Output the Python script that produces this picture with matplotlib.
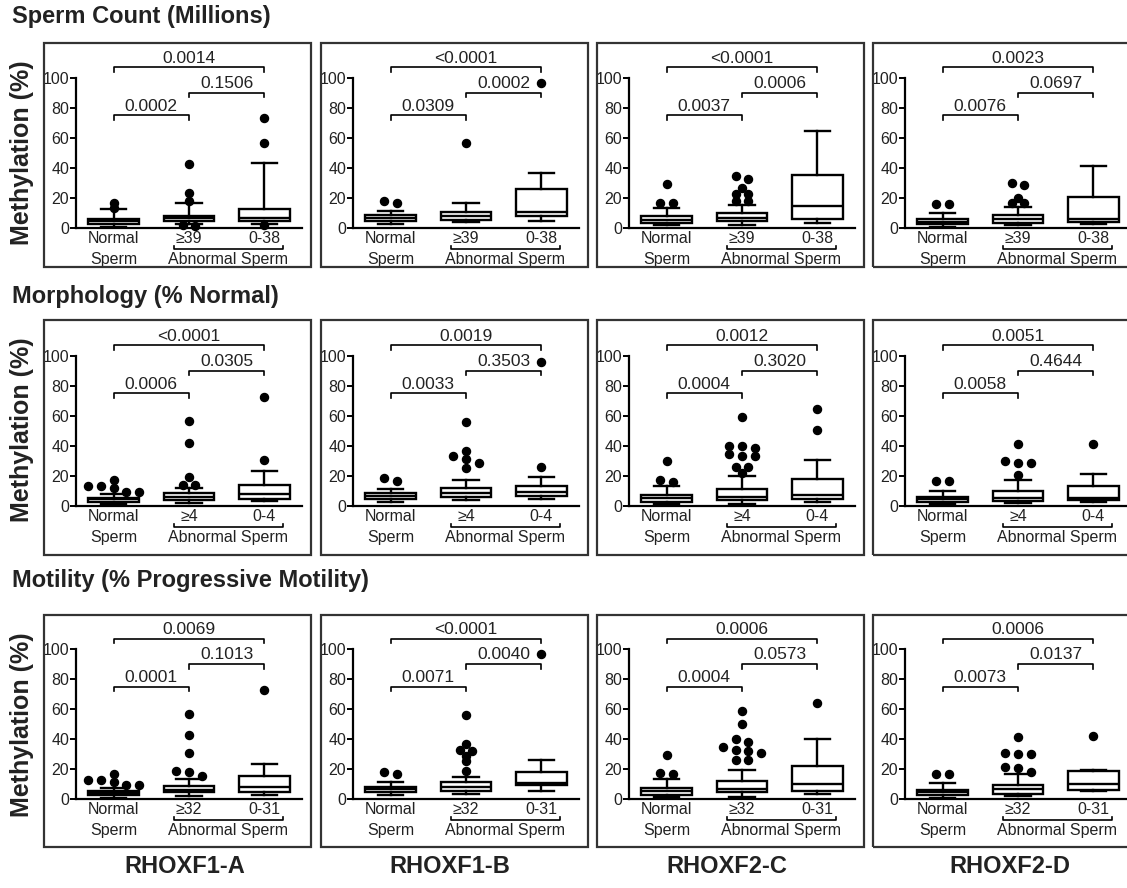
import matplotlib
matplotlib.use("Agg")
import matplotlib.pyplot as plt
from matplotlib.patches import Rectangle

plt.rcParams['font.family'] = ['Liberation Sans', 'DejaVu Sans']

W, H = 1127, 888

row_titles = ["Sperm Count (Millions)", "Morphology (% Normal)", "Motility (% Progressive Motility)"]
col_titles = ["RHOXF1-A", "RHOXF1-B", "RHOXF2-C", "RHOXF2-D"]
group_labels = [["Normal", "\u226539", "0-38"],
                ["Normal", "\u22654", "0-4"],
                ["Normal", "\u226532", "0-31"]]

# p-values per panel: (Normal vs group2, group2 vs group3, Normal vs group3)
pvals_count = [["0.0002", "0.1506", "0.0014"], ["0.0309", "0.0002", "<0.0001"],
               ["0.0037", "0.0006", "<0.0001"], ["0.0076", "0.0697", "0.0023"]]
pvals_morph = [["0.0006", "0.0305", "<0.0001"], ["0.0033", "0.3503", "0.0019"],
               ["0.0004", "0.3020", "0.0012"], ["0.0058", "0.4644", "0.0051"]]
pvals_motil = [["0.0001", "0.1013", "0.0069"], ["0.0071", "0.0040", "<0.0001"],
               ["0.0004", "0.0573", "0.0006"], ["0.0073", "0.0137", "0.0006"]]

# box stats: (whisker low, q1, median, q3, whisker high, outliers)
count_A = [(0.8, 3.0, 4.5, 6.0, 13.0, [17.0, 13.2]),
           (3.0, 4.5, 6.5, 8.2, 16.5, [42.6, 23.0, 17.8, 1.8, 1.6]),
           (3.0, 4.5, 7.0, 12.7, 43.6, [73.0, 56.7, 1.8])]
count_B = [(2.5, 4.7, 6.7, 8.5, 11.6, [17.0, 18.3]),
           (3.8, 5.6, 8.3, 10.5, 16.7, [56.5]),
           (5.0, 8.0, 11.0, 25.7, 36.4, [96.6])]
count_C = [(1.8, 3.3, 5.6, 7.8, 13.6, [29.6, 16.7, 16.9]),
           (2.0, 4.5, 6.5, 9.8, 15.6, [32.7, 34.4, 26.4, 22.4, 22.4, 17.8, 17.8]),
           (3.6, 6.2, 15.0, 35.0, 64.4, [])]
count_D = [(1.0, 2.7, 4.2, 6.0, 10.0, [16.3, 16.3]),
           (2.0, 3.3, 6.0, 9.0, 14.2, [30.3, 28.5, 20.0, 17.0, 17.0]),
           (2.7, 4.0, 6.0, 20.7, 41.5, [])]

morph_A = [(1.0, 2.9, 4.5, 5.5, 7.7, [17.2, 13.5, 12.1, 9.5, 9.5, 13.3]),
           (1.8, 4.0, 6.0, 8.4, 12.1, [56.5, 42.2, 19.0, 14.3, 14.3]),
           (3.0, 4.6, 7.7, 14.3, 23.4, [72.8, 30.9])]
morph_B = [(2.6, 4.9, 6.8, 8.6, 11.5, [16.8, 18.8]),
           (4.0, 6.2, 8.8, 11.7, 17.0, [56.3, 36.6, 33.1, 31.6, 28.7, 25.6]),
           (4.6, 6.8, 9.3, 13.5, 19.4, [26.0, 96.0])]
morph_C = [(1.6, 2.9, 5.5, 7.6, 13.5, [29.7, 17.3, 16.2]),
           (1.6, 4.3, 6.3, 11.0, 19.8, [59.0, 40.0, 40.0, 38.7, 34.4, 33.3, 33.0, 26.3, 26.0, 21.8]),
           (2.5, 4.5, 7.6, 18.0, 30.6, [64.5, 50.6])]
morph_D = [(1.0, 2.6, 4.4, 6.2, 10.3, [16.9, 16.9]),
           (2.0, 3.3, 5.5, 9.7, 17.6, [41.1, 30.3, 28.8, 28.8, 20.4]),
           (2.6, 3.7, 5.5, 13.2, 21.3, [41.5])]

motil_A = [(1.0, 2.5, 4.0, 5.4, 7.4, [17.0, 12.7, 11.2, 9.6, 9.6, 12.9]),
           (2.0, 4.5, 6.3, 8.5, 13.6, [56.5, 42.6, 30.6, 18.8, 17.9, 15.2]),
           (2.5, 4.7, 8.3, 15.2, 23.2, [72.8])]
motil_B = [(2.5, 4.7, 6.5, 8.3, 11.4, [16.6, 18.2]),
           (3.6, 5.4, 7.8, 11.2, 15.0, [56.3, 36.5, 33.0, 32.0, 28.7, 25.3, 18.8]),
           (5.4, 9.4, 11.0, 17.7, 25.8, [96.6])]
motil_C = [(1.5, 2.9, 5.4, 7.6, 13.5, [29.6, 17.3, 16.6]),
           (1.5, 4.5, 7.0, 11.9, 19.5, [59.0, 50.2, 40.0, 38.3, 34.8, 32.7, 31.8, 30.7, 25.8, 25.8]),
           (3.6, 5.6, 10.0, 22.2, 40.0, [64.3])]
motil_D = [(1.0, 2.7, 4.5, 6.0, 10.5, [16.5, 16.5]),
           (2.0, 3.3, 6.7, 9.4, 17.0, [41.3, 30.6, 29.7, 29.7, 21.2, 20.5, 18.3]),
           (5.1, 6.2, 10.0, 18.5, 19.6, [41.7])]

rows_data = [[count_A, count_B, count_C, count_D],
             [morph_A, morph_B, morph_C, morph_D],
             [motil_A, motil_B, motil_C, motil_D]]
rows_pvals = [pvals_count, pvals_morph, pvals_motil]

# ---------------- layout (pixels) ----------------
frame_left = [44, 321, 597, 873]
frame_w = 267
frame_rows = [(43, 267), (320, 555), (615, 847)]
zero_rows = [228, 506, 799]
px_per_unit = 1.5
ytop = 120

fig = plt.figure(figsize=(W / 100, H / 100), dpi=100)
fig.patch.set_facecolor('white')

def fx(x):
    return x / W

def fy(y):
    return 1 - y / H

def dodge(values, thr=3.0, step=0.17):
    vals = sorted(values, reverse=True)
    out = []
    i = 0
    while i < len(vals):
        j = i
        while j + 1 < len(vals) and vals[j] - vals[j + 1] < thr:
            j += 1
        n = j - i + 1
        for k in range(n):
            out.append(((k - (n - 1) / 2) * step, vals[i + k]))
        i = j + 1
    return out

tc = '#222222'
for r in range(3):
    top, bot = frame_rows[r]
    y0 = zero_rows[r]
    for c in range(4):
        fl = frame_left[c]
        fig.add_artist(Rectangle((fx(fl), fy(bot)), frame_w / W, (bot - top) / H,
                                 transform=fig.transFigure, fill=False,
                                 lw=1.6, ec='#333333'))
        ax = fig.add_axes([fx(fl + 32), fy(y0), 226 / W, ytop * px_per_unit / H])
        ax.set_facecolor('none')
        data = rows_data[r][c]
        stats = []
        for (lo, q1, med, q3, hi, fli) in data:
            stats.append(dict(whislo=lo, q1=q1, med=med, q3=q3, whishi=hi, fliers=[]))
        arts = ax.bxp(stats, positions=[1, 2, 3], widths=0.67, showfliers=False,
                      patch_artist=True,
                      boxprops=dict(facecolor='white', edgecolor='black', linewidth=1.7),
                      medianprops=dict(color='black', linewidth=1.7),
                      whiskerprops=dict(color='black', linewidth=1.7),
                      capprops=dict(color='black', linewidth=1.7))
        for key in arts:
            for a in arts[key]:
                a.set_clip_on(False)
        for pos, (lo, q1, med, q3, hi, fli) in zip([1, 2, 3], data):
            pts = dodge(fli)
            if pts:
                xs = [pos + dx for dx, v in pts]
                ys = [v for dx, v in pts]
                ax.plot(xs, ys, 'o', color='black', ms=5.8, clip_on=False, zorder=5)
        ax.set_xlim(0.5, 3.5)
        ax.set_ylim(0, ytop)
        for s in ['top', 'right']:
            ax.spines[s].set_visible(False)
        ax.spines['left'].set_bounds(0, 100)
        ax.spines['left'].set_linewidth(1.6)
        ax.spines['bottom'].set_linewidth(1.6)
        ax.set_yticks([0, 20, 40, 60, 80, 100])
        ax.set_xticks([])
        ax.tick_params(axis='y', length=4, width=1.4, labelsize=11.5, labelcolor=tc, pad=1)
        # x labels
        labs = group_labels[r]
        for pos, lab in zip([1, 2, 3], labs):
            ax.text(pos, -2.2, lab, ha='center', va='top', fontsize=11.5, color=tc,
                    clip_on=False)
        ax.text(1, -16.3, "Sperm", ha='center', va='top', fontsize=11.5, color=tc,
                clip_on=False)
        ax.plot([1.8, 1.8, 3.25, 3.25], [-12.0, -14.3, -14.3, -12.0], color='black', lw=1.2,
                clip_on=False)
        ax.text(2.52, -16.3, "Abnormal Sperm", ha='center', va='top', fontsize=11.5,
                color=tc, clip_on=False)
        # significance brackets
        pv = rows_pvals[r][c]
        spans = [(1, 2, 75), (2, 3, 90), (1, 3, 107)]
        for (a, b, yb), p in zip(spans, pv):
            ax.plot([a, a, b, b], [yb - 3, yb, yb, yb - 3], color='black', lw=1.2,
                    clip_on=False)
            ax.text((a + b) / 2, yb + 1.2, p, ha='center', va='bottom', fontsize=12.5,
                    color=tc, clip_on=False)

# row titles
row_title_y = [17, 296, 580]
for t, y in zip(row_titles, row_title_y):
    fig.text(fx(12), fy(y), t, ha='left', va='center', fontsize=17, fontweight='bold',
             color=tc)
# y labels
ylab_y = [153, 430, 725]
for y in ylab_y:
    fig.text(fx(22), fy(y), "Methylation (%)", ha='center', va='center', rotation=90,
             fontsize=18, fontweight='bold', color=tc)
# column titles
col_x = [185, 450, 727, 1010]
for t, x in zip(col_titles, col_x):
    fig.text(fx(x), fy(866), t, ha='center', va='center', fontsize=17, fontweight='bold',
             color=tc)

fig.savefig("out.png", dpi=100)
